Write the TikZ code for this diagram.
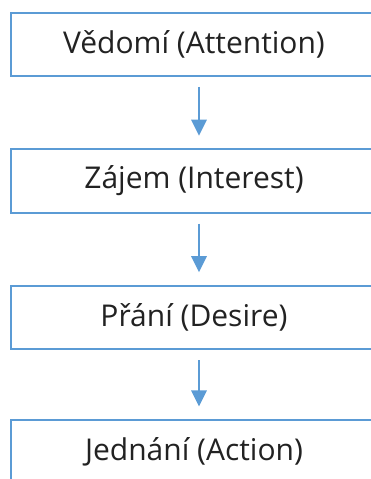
\documentclass[tikz,border=0pt]{standalone}
\usepackage{fontspec}
\setmainfont{Open Sans}
\usetikzlibrary{arrows.meta}
\definecolor{boxblue}{HTML}{5B9BD5}
\definecolor{txt}{HTML}{222222}
\newcommand{\stagetext}[1]{\raisebox{-2.5pt}{#1}}
\tikzset{
  stagebox/.style={draw=boxblue, line width=1.5pt, rectangle, minimum width=274.5pt, minimum height=47.6pt, inner sep=0pt, text=txt, font=\fontsize{22.5}{26}\selectfont},
  flowarrow/.style={draw=boxblue, line width=1.6pt, -{Triangle[width=11.5pt,length=12pt]}}
}
\begin{document}
\begin{tikzpicture}[x=0.75pt,y=-0.75pt]
\useasboundingbox (0,0) rectangle (371,479);
\clip (0,0) rectangle (371,479);
\node[stagebox] (b1) at (194,44.25) {\stagetext{Vědomí (Attention)}};
\node[stagebox] (b2) at (194,181) {\stagetext{Zájem (Interest)}};
\node[stagebox] (b3) at (194,317.5) {\stagetext{Přání (Desire)}};
\node[stagebox] (b4) at (194,451.75) {\stagetext{Jednání (Action)}};
\draw[flowarrow] ([xshift=3.75pt,yshift=-7.5pt]b1.south) -- ([xshift=3.75pt,yshift=9.4pt]b2.north);
\draw[flowarrow] ([xshift=3.75pt,yshift=-7.5pt]b2.south) -- ([xshift=3.75pt,yshift=9.4pt]b3.north);
\draw[flowarrow] ([xshift=3.75pt,yshift=-7.5pt]b3.south) -- ([xshift=3.75pt,yshift=9.4pt]b4.north);
\end{tikzpicture}
\end{document}
